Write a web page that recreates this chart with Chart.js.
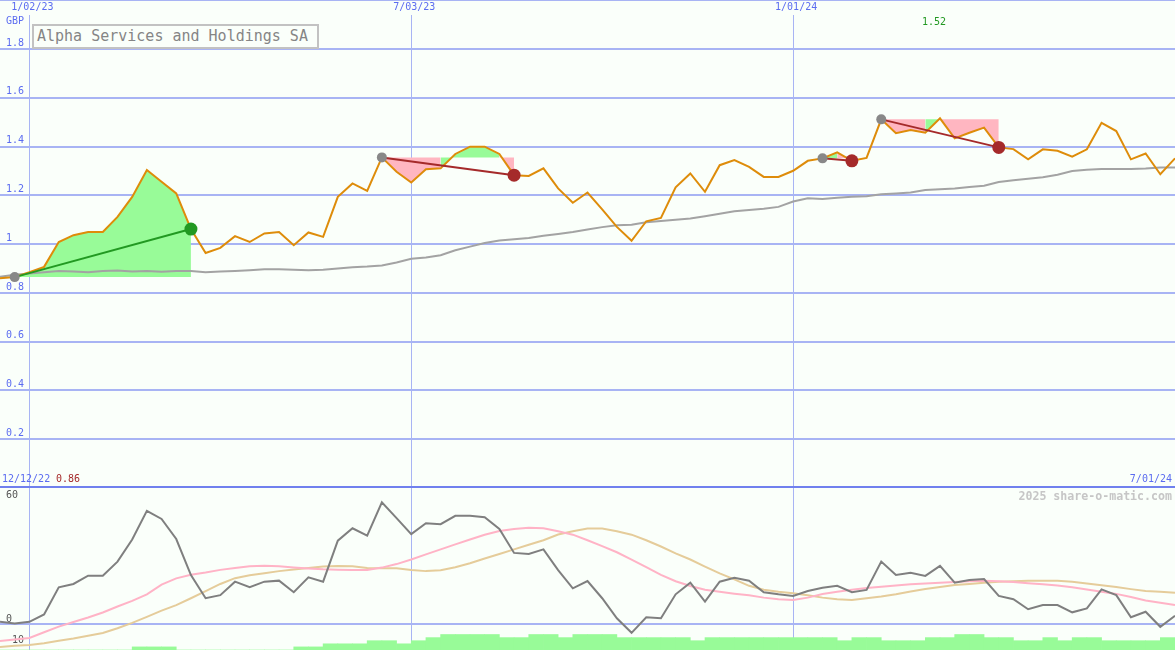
<!DOCTYPE html>
<html>
<head>
<meta charset="utf-8">
<script src="https://cdn.jsdelivr.net/npm/chart.js@4.4.1/dist/chart.umd.min.js"></script>
<style>
body { margin: 0; background: #fafffa; }
#wrap { position: relative; width: 1175px; height: 650px; overflow: hidden; background: #fafffa; font-family: "DejaVu Sans Mono", monospace; }
#chartPrice { position: absolute; left: 0; top: 0; }
#chartOsc { position: absolute; left: 0; top: 488px; }
.txt { position: absolute; font-size: 10px; line-height: 12px; white-space: pre; }
#title { position: absolute; left: 32px; top: 24px; width: 287px; height: 25px; box-sizing: border-box; border: 2px solid #c2c2c2; background: #fafffa; color: #858585; font-size: 15px; line-height: 21px; padding-left: 3px; white-space: pre; }
</style>
</head>
<body>
<div id="wrap">
  <canvas id="chartPrice" width="1175" height="488"></canvas>
  <canvas id="chartOsc" width="1175" height="162"></canvas>
  <div id="title">Alpha Services and Holdings SA</div>
  <div class="txt" style="left:6px; top:15px; color:#5b6cf0;">GBP</div>
  <div class="txt" style="left:2px; top:473px; color:#5b6cf0;">12/12/22</div>
  <div class="txt" style="left:56px; top:473px; color:#a52a2a;">0.86</div>
  <div class="txt" style="right:3px; top:473px; color:#5b6cf0;">7/01/24</div>
  <div class="txt" style="right:3px; top:489px; color:#c6c6c6; font-size:11.6px; font-weight:bold; line-height:14px;">2025 share-o-matic.com</div>
</div>
<script>
// weekly points, index 0 .. 80
const dateTicks = [2, 28, 54];
const dateLabels = ['1/02/23', '7/03/23', '1/01/24'];
const priceTicks = [0, 0.2, 0.4, 0.6, 0.8, 1, 1.2, 1.4, 1.6, 1.8];
const oscTicks = [60, 0, -10];

const price = [0.86, 0.865, 0.885, 0.907, 1.009, 1.037, 1.05, 1.05, 1.112, 1.194,
  1.304, 1.256, 1.208, 1.062, 0.964, 0.985, 1.033, 1.009, 1.044, 1.05,
  0.996, 1.048, 1.03, 1.194, 1.249, 1.219, 1.356, 1.297, 1.253, 1.307,
  1.311, 1.37, 1.40, 1.40, 1.37, 1.283, 1.28, 1.311, 1.229, 1.17,
  1.212, 1.143, 1.071, 1.014, 1.094, 1.108, 1.233, 1.29, 1.215, 1.324,
  1.345, 1.317, 1.276, 1.276, 1.301, 1.342, 1.352, 1.377, 1.342, 1.354,
  1.512, 1.455, 1.468, 1.457, 1.516, 1.434, 1.457, 1.478, 1.397, 1.39,
  1.348, 1.389, 1.383, 1.359, 1.389, 1.498, 1.464, 1.348, 1.372, 1.287, 1.352];

const average = [0.866, 0.875, 0.88, 0.885, 0.89, 0.888, 0.885, 0.89, 0.892, 0.888,
  0.89, 0.887, 0.89, 0.89, 0.885, 0.888, 0.89, 0.893, 0.897, 0.897,
  0.895, 0.893, 0.895, 0.9, 0.905, 0.908, 0.913, 0.925, 0.94, 0.945,
  0.955, 0.975, 0.99, 1.005, 1.015, 1.02, 1.025, 1.035, 1.042, 1.05,
  1.06, 1.07, 1.078, 1.08, 1.09, 1.095, 1.1, 1.105, 1.115, 1.125,
  1.135, 1.14, 1.145, 1.153, 1.175, 1.188, 1.185, 1.19, 1.195, 1.197,
  1.205, 1.208, 1.212, 1.222, 1.225, 1.228, 1.235, 1.24, 1.255, 1.262,
  1.268, 1.275, 1.285, 1.3, 1.305, 1.308, 1.308, 1.308, 1.31, 1.315, 1.315];

const osc = [1.2, 0.4, 1.2, 4.8, 17.9, 19.5, 23.5, 23.5, 30.3, 41.0,
  54.8, 50.9, 41.2, 23.8, 12.6, 14.1, 20.6, 17.9, 20.6, 21.1,
  15.5, 22.7, 20.6, 40.4, 46.4, 42.8, 58.9, 51.3, 43.6, 48.8,
  48.4, 52.4, 52.4, 51.7, 46.1, 34.5, 34.0, 36.2, 26.2, 17.4,
  20.9, 12.6, 2.9, -4.1, 3.4, 2.9, 14.5, 20.1, 11.0, 20.6,
  22.5, 21.1, 15.5, 14.5, 13.7, 16.1, 17.7, 18.6, 15.5, 16.6,
  30.3, 23.8, 24.9, 23.4, 28.2, 20.1, 21.4, 21.9, 13.7, 12.1,
  7.3, 9.3, 9.3, 5.8, 7.7, 16.9, 14.1, 3.4, 6.1, -1.2, 4.1];

const oscPink = [-8.1, -7.3, -6.6, -3.8, -1.1, 1.1, 3.3, 5.7, 8.6, 11.3,
  14.5, 19.2, 22.2, 23.9, 25.0, 26.3, 27.2, 28.1, 28.3, 28.1,
  27.5, 27.0, 26.6, 26.4, 26.2, 26.3, 27.4, 29.1, 31.3, 33.8,
  36.2, 38.6, 41.0, 43.3, 45.1, 46.1, 46.7, 46.4, 45.0, 43.3,
  40.6, 37.8, 34.8, 31.3, 27.6, 23.9, 20.8, 18.5, 16.7, 15.7,
  14.8, 14.0, 12.9, 12.1, 11.7, 12.9, 14.6, 15.7, 16.7, 17.5,
  18.2, 18.8, 19.3, 19.7, 20.1, 20.5, 20.8, 21.1, 20.8, 20.4,
  19.8, 19.3, 18.8, 17.9, 16.8, 15.7, 14.7, 13.2, 11.5, 10.4, 9.3];

const oscTan = [-10.9, -10.4, -10.0, -9.1, -7.9, -6.8, -5.5, -4.2, -1.9, 0.7,
  3.6, 6.6, 9.3, 12.6, 16.0, 19.5, 22.3, 23.7, 24.7, 25.7,
  26.5, 27.2, 27.9, 28.2, 28.0, 27.2, 27.1, 27.1, 26.3, 25.7,
  26.1, 27.6, 29.5, 31.8, 34.0, 36.2, 38.4, 40.6, 43.4, 45.0,
  46.3, 46.3, 45.0, 43.3, 40.6, 37.6, 34.3, 31.3, 27.9, 24.6,
  21.7, 18.6, 16.7, 15.7, 15.0, 14.0, 12.9, 12.1, 11.7, 12.6,
  13.4, 14.5, 15.9, 17.1, 18.0, 19.0, 19.5, 20.1, 20.6, 20.8,
  21.1, 21.1, 21.1, 20.6, 19.7, 18.9, 18.0, 17.0, 16.1, 15.7, 15.2];

// one bar per week, between point i and i+1
const volume = [0, 0, 0, 0, 0, 0, 0, 0, 0, 1, 1, 1, 0, 0, 0, 0, 0, 0, 0, 0,
  1, 1, 2, 2, 2, 3, 3, 2, 3, 4, 5, 5, 5, 5, 4, 4, 5, 5, 4, 5,
  5, 5, 4, 4, 4, 4, 4, 3, 4, 4, 4, 4, 4, 4, 4, 4, 4, 3, 4, 4,
  3, 3, 3, 4, 4, 5, 5, 4, 4, 3, 3, 4, 3, 4, 4, 3, 3, 3, 3, 4];

// trend segments drawn over the price line
const trendFrom = [1, 26, 56, 60];
const trendTo = [13, 35, 58, 68];

const blueText = '#5b6cf0';
const gridBlue = '#a8b4f4';
const fontMono = { family: 'DejaVu Sans Mono', size: 10 };

function points(arr, from, to) {
    const out = [];
    for (let i = from; i <= to; i++) {
        out.push({ x: i, y: arr[i] });
    }
    return out;
}

// no auto padding around the plot, the labels sit inside it
function noPad(s) {
    s.paddingTop = 0;
    s.paddingBottom = 0;
    s.paddingLeft = 0;
    s.paddingRight = 0;
}

const priceSets = [];

for (let k = 0; k < trendFrom.length; k++) {
    const a = trendFrom[k];
    const b = trendTo[k];
    const base = price[a];
    let run = null;
    const runs = [];
    for (let i = a; i < b; i++) {
        const up = price[i + 1] > base;
        if (!run || run.up !== up) {
            run = { up: up, from: i, to: i + 1 };
            runs.push(run);
        } else {
            run.to = i + 1;
        }
    }
    runs.forEach(r => {
        priceSets.push({
            data: points(price, r.from, r.to),
            borderWidth: 0,
            backgroundColor: r.up ? '#98fb98' : '#ffb6c1',
            fill: { value: base },
            order: 5
        });
    });

    const colour = price[b] >= price[a] ? '#229922' : '#a52a2a';
    priceSets.push({
        data: [{ x: a, y: price[a] }, { x: b, y: price[b] }],
        borderColor: colour,
        borderWidth: 2,
        pointRadius: [5, 6.5],
        pointBackgroundColor: ['#888888', colour],
        pointBorderWidth: 0,
        order: 1
    });
}

priceSets.push({
    data: points(average, 0, 80),
    borderColor: '#a3a3a3',
    borderWidth: 2,
    order: 4
});
priceSets.push({
    data: points(price, 0, 80),
    borderColor: '#de8c0a',
    borderWidth: 2,
    order: 3
});

const topLine = {
    id: 'topLine',
    afterDraw(chart) {
        const ctx = chart.ctx;
        ctx.save();
        ctx.fillStyle = gridBlue;
        ctx.fillRect(0, 0, chart.width, 1);
        ctx.restore();
    }
};

const maxLabel = {
    id: 'maxLabel',
    afterDraw(chart) {
        let m = 0;
        price.forEach((p, i) => { if (p > price[m]) m = i; });
        const ctx = chart.ctx;
        const x = chart.scales.x.getPixelForValue(m);
        ctx.save();
        ctx.font = '10px "DejaVu Sans Mono"';
        ctx.fillStyle = '#229922';
        ctx.textAlign = 'center';
        ctx.textBaseline = 'middle';
        ctx.fillText(price[m].toFixed(2), x - 6, 22);
        ctx.restore();
    }
};

new Chart(document.getElementById('chartPrice'), {
    type: 'line',
    data: { datasets: priceSets },
    options: {
        responsive: false,
        animation: false,
        devicePixelRatio: 1,
        layout: { padding: 0, autoPadding: false },
        elements: { point: { radius: 0 }, line: { tension: 0 } },
        plugins: { legend: { display: false }, tooltip: { enabled: false } },
        scales: {
            x: {
                type: 'linear', position: 'top', min: 0, max: 80, offset: false,
                afterBuildTicks: s => { s.ticks = dateTicks.map(v => ({ value: v })); },
                afterFit: s => { s.height = 15; noPad(s); },
                ticks: { color: blueText, font: fontMono, padding: 2, labelOffset: 3, maxRotation: 0, autoSkip: false,
                         callback: (v, i) => dateLabels[i] },
                grid: { color: gridBlue, lineWidth: 1, drawTicks: false, offset: false },
                border: { display: false }
            },
            y: {
                position: 'left', min: 0, max: 1.94,
                afterBuildTicks: s => { s.ticks = priceTicks.map(v => ({ value: v })); },
                afterFit: s => { s.width = 0; noPad(s); },
                ticks: { mirror: true, padding: 6, labelOffset: -6, color: blueText, font: fontMono,
                         callback: v => v === 0 ? '' : String(v) },
                grid: {
                    color: c => (c.tick && c.tick.value === 0) ? '#7080ee' : gridBlue,
                    lineWidth: c => (c.tick && c.tick.value === 0) ? 4 : 2,
                    drawTicks: false
                },
                border: { display: false }
            }
        }
    },
    plugins: [topLine, maxLabel]
});

new Chart(document.getElementById('chartOsc'), {
    type: 'line',
    data: {
        datasets: [
            { data: points(osc, 0, 80), borderColor: '#7f7f7f', borderWidth: 2, order: 1 },
            { data: points(oscPink, 0, 80), borderColor: '#ffb3c6', borderWidth: 2, order: 2 },
            { data: points(oscTan, 0, 80), borderColor: '#e5cc9a', borderWidth: 2, order: 3 },
            {
                type: 'bar',
                data: volume.map((v, i) => ({ x: i + 0.5, y: v })),
                yAxisID: 'yv',
                backgroundColor: '#98fb98',
                borderWidth: 0,
                barPercentage: 1,
                categoryPercentage: 1,
                order: 10
            }
        ]
    },
    options: {
        responsive: false,
        animation: false,
        devicePixelRatio: 1,
        layout: { padding: 0, autoPadding: false },
        elements: { point: { radius: 0 }, line: { tension: 0 } },
        plugins: { legend: { display: false }, tooltip: { enabled: false } },
        scales: {
            x: {
                type: 'linear', min: 0, max: 80, offset: false,
                afterBuildTicks: s => { s.ticks = dateTicks.map(v => ({ value: v })); },
                afterFit: s => { s.height = 0; noPad(s); },
                ticks: { display: false },
                grid: { color: gridBlue, lineWidth: 1, drawTicks: false, offset: false },
                border: { display: false }
            },
            y: {
                position: 'left', min: -12.4, max: 65.85,
                afterBuildTicks: s => { s.ticks = oscTicks.map(v => ({ value: v })); },
                afterFit: s => { s.width = 0; noPad(s); },
                ticks: { mirror: true, padding: 6, labelOffset: -5, color: '#555555', font: fontMono,
                         callback: v => String(v) },
                grid: { color: c => (c.tick && c.tick.value === 0) ? gridBlue : 'rgba(0,0,0,0)', lineWidth: 2, drawTicks: false },
                border: { display: false }
            },
            yv: { display: false, min: 0, max: 52.3, afterFit: noPad }
        }
    }
});
</script>
</body>
</html>
